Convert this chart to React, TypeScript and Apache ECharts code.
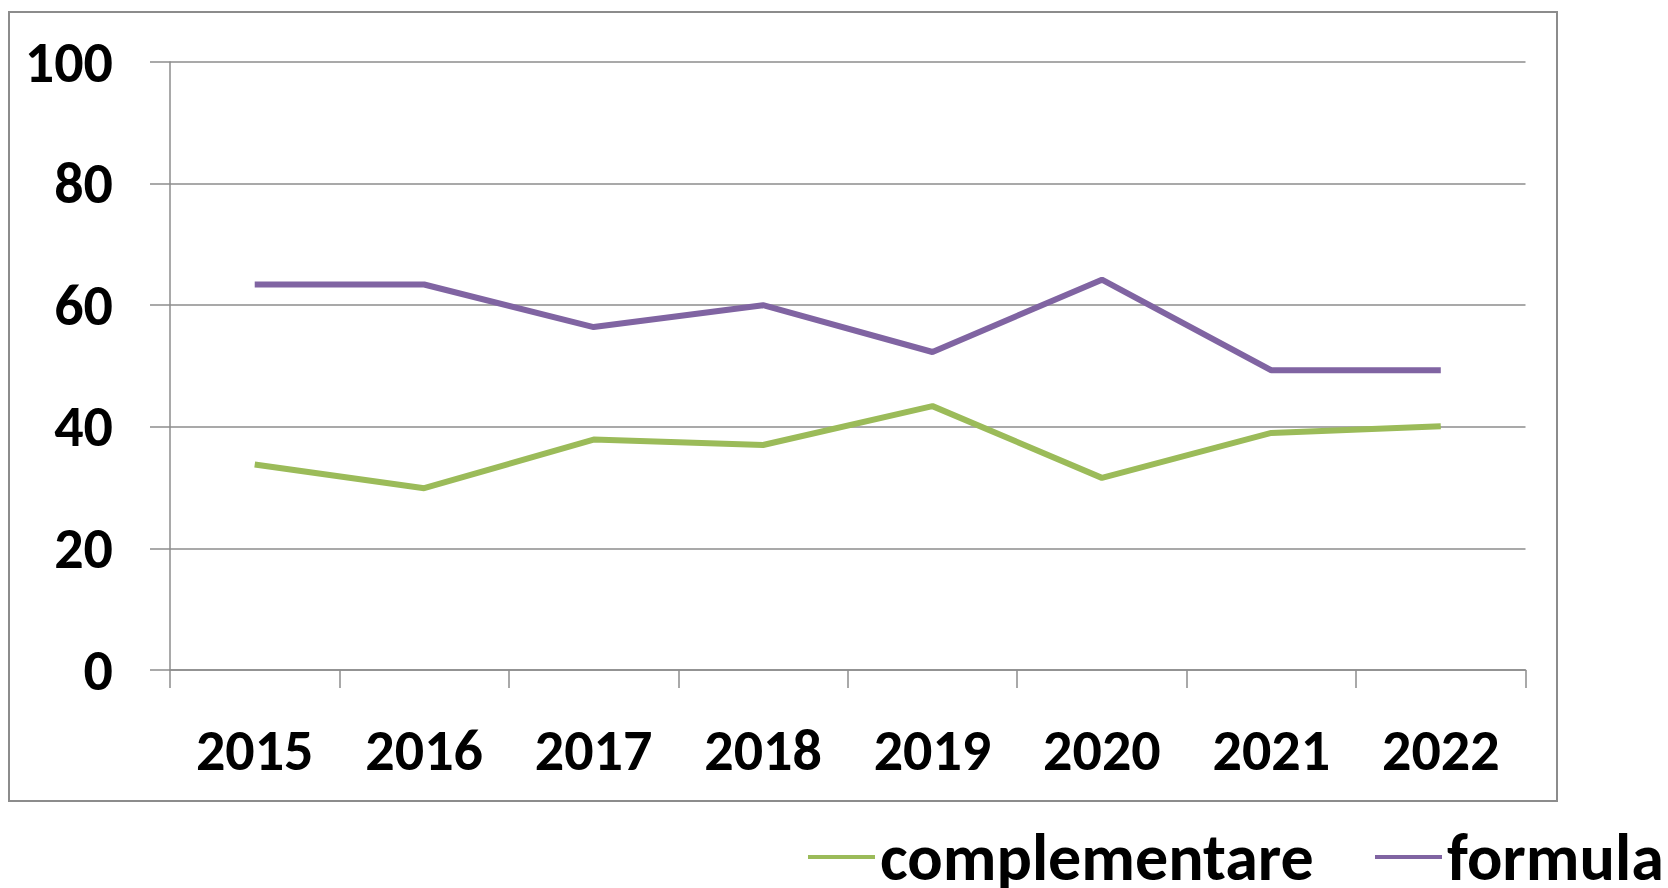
import React, { useEffect, useRef } from "react";
import * as echarts from "echarts";

const years = ["2015", "2016", "2017", "2018", "2019", "2020", "2021", "2022"];
const complementare = [33.8, 29.9, 37.9, 37.0, 43.4, 31.6, 39.0, 40.1];
const formula = [63.4, 63.4, 56.4, 60.0, 52.3, 64.2, 49.3, 49.3];
const seriesNames = ["complementare", "formula"];
const yTicks = { min: 0, max: 100, interval: 20 };

const FONT = "Carlito, 'Open Sans', 'Liberation Sans', sans-serif";
const GRAY = "#8c8c8c";

export default function App() {
  const ref = useRef<HTMLDivElement>(null);
  useEffect(() => {
    document.body.style.margin = "0";
    const chart = echarts.init(ref.current!, null, { renderer: "svg" });
    const legendBase = {
      top: 824,
      padding: 0,
      icon: "rect",
      itemWidth: 67,
      itemHeight: 4,
      itemGap: 0,
      textStyle: {
        fontFamily: FONT,
        fontWeight: "bold",
        fontSize: 66,
        lineHeight: 66,
        color: "#000",
      },
    };
    chart.setOption({
      animation: false,
      backgroundColor: "#ffffff",
      graphic: [
        {
          type: "rect",
          shape: { x: 9, y: 12, width: 1548, height: 789 },
          style: { fill: "none", stroke: GRAY, lineWidth: 2 },
          silent: true,
        },
      ],
      grid: { left: 170, right: 142.5, top: 62, bottom: 218 },
      legend: [
        { ...legendBase, data: [seriesNames[0]], left: 808 },
        { ...legendBase, data: [seriesNames[1]], left: 1375 },
      ],
      xAxis: {
        type: "category",
        data: years,
        boundaryGap: true,
        axisLine: { lineStyle: { color: GRAY, width: 1.5 } },
        axisTick: { show: true, length: 18, lineStyle: { color: GRAY, width: 1.5 } },
        axisLabel: {
          margin: 51,
          fontFamily: FONT,
          fontWeight: "bold",
          fontSize: 58,
          lineHeight: 58,
          color: "#000",
        },
      },
      yAxis: {
        type: "value",
        min: yTicks.min,
        max: yTicks.max,
        interval: yTicks.interval,
        axisLine: { show: true, lineStyle: { color: GRAY, width: 1.5 } },
        axisTick: { show: true, length: 20, lineStyle: { color: GRAY, width: 1.5 } },
        splitLine: { show: true, lineStyle: { color: GRAY, width: 1.5 } },
        axisLabel: {
          margin: 57,
          fontFamily: FONT,
          fontWeight: "bold",
          fontSize: 58,
          lineHeight: 58,
          color: "#000",
        },
      },
      series: [
        {
          name: seriesNames[0],
          type: "line",
          data: complementare,
          symbol: "none",
          color: "#9BBB59",
          lineStyle: { color: "#9BBB59", width: 6 },
        },
        {
          name: seriesNames[1],
          type: "line",
          data: formula,
          symbol: "none",
          color: "#8064A2",
          lineStyle: { color: "#8064A2", width: 6 },
        },
      ],
    });
    return () => chart.dispose();
  }, []);
  return (
    <div
      ref={ref}
      style={{ position: "absolute", left: 0, top: 0, width: 1668, height: 888 }}
    />
  );
}
